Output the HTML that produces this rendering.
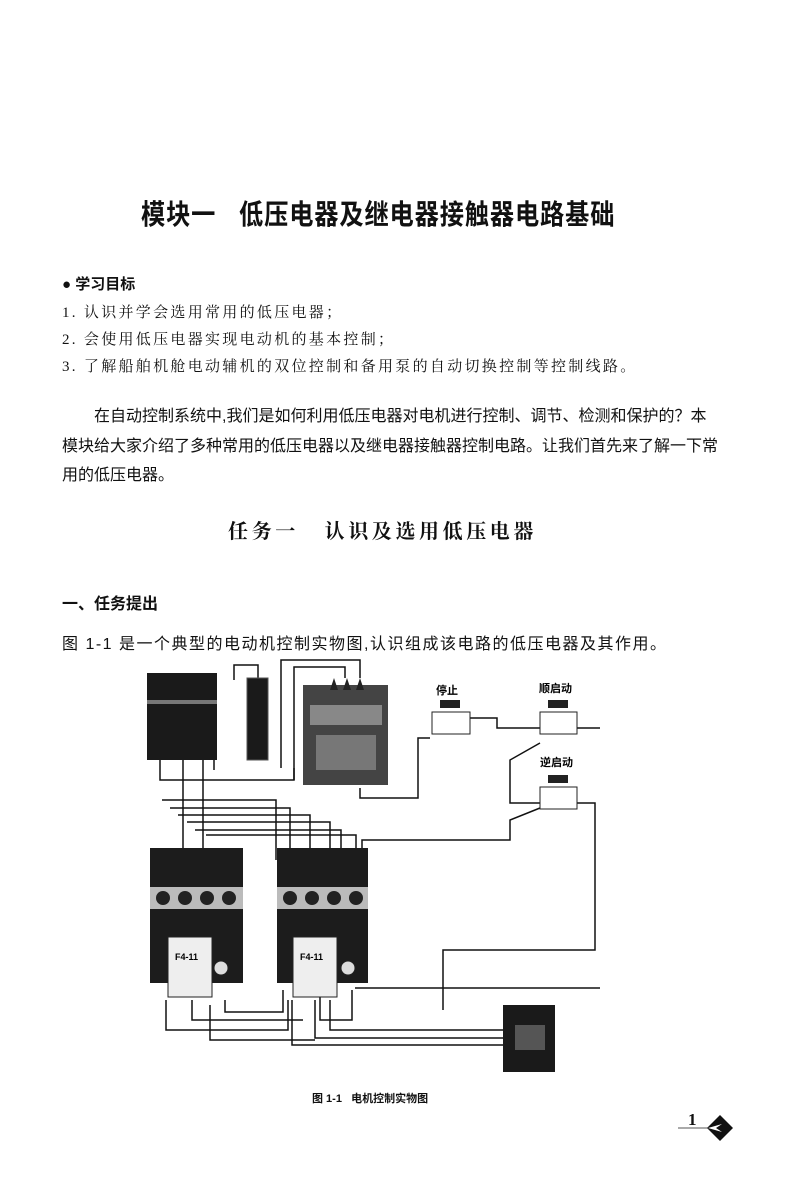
<!DOCTYPE html>
<html><head><meta charset="utf-8"><style>
body{margin:0;width:790px;height:1198px;background:#fff;position:relative;overflow:hidden;font-family:"Liberation Serif","Noto Serif CJK SC",serif;color:#111}
.t{position:absolute;white-space:nowrap}
.s{font-family:"Liberation Sans","Noto Sans CJK SC",sans-serif}
</style></head><body>
<div class="t s" style="left:141px;top:193px;font-size:28px;font-weight:bold;letter-spacing:1px;transform:scaleX(0.865);transform-origin:0 0">模块一&nbsp;&nbsp;&nbsp;低压电器及继电器接触器电路基础</div>
<div class="t s" style="left:62px;top:273px;font-size:15px;font-weight:bold">●&nbsp;学习目标</div>
<div class="t" style="left:62px;top:301px;font-size:15px;letter-spacing:2.3px">1. 认识并学会选用常用的低压电器；</div>
<div class="t" style="left:62px;top:328px;font-size:15px;letter-spacing:2.3px">2. 会使用低压电器实现电动机的基本控制；</div>
<div class="t" style="left:62px;top:355px;font-size:15px;letter-spacing:2.3px">3. 了解船舶机舱电动辅机的双位控制和备用泵的自动切换控制等控制线路。</div>
<div class="t s" style="left:94px;top:402px;font-size:16px">在自动控制系统中,我们是如何利用低压电器对电机进行控制、调节、检测和保护的？本</div>
<div class="t s" style="left:62px;top:432px;font-size:16px">模块给大家介绍了多种常用的低压电器以及继电器接触器控制电路。让我们首先来了解一下常</div>
<div class="t s" style="left:62px;top:461px;font-size:16px">用的低压电器。</div>
<div class="t" style="left:228px;top:515px;font-size:20px;letter-spacing:3.6px;font-weight:bold">任务一&nbsp;&nbsp;&nbsp;认识及选用低压电器</div>
<div class="t s" style="left:62px;top:590px;font-size:16px;font-weight:bold">一、任务提出</div>
<div class="t s" style="left:62px;top:630px;font-size:16px;letter-spacing:1.5px">图 1-1 是一个典型的电动机控制实物图,认识组成该电路的低压电器及其作用。</div>
<svg style="position:absolute;left:0;top:0" width="790" height="1198">
<g fill="none" stroke="#111" stroke-width="1.5">
<path d="M234 680V665H258V680"/><path d="M281 768V660H360V678"/><path d="M294 780V667H345V678"/>
<path d="M360 788V798H418V738H430"/><path d="M470 718H497V728H540"/><path d="M577 728H600"/>
<path d="M540 743L510 760V803H540"/><path d="M577 803H595V950H443V1010"/>
<path d="M540 808L510 820V840H362V852"/><path d="M355 988H600"/>
<path d="M160 760V780H294V768"/><path d="M183 760V850M203 760V850M214 760V770"/>
<path d="M162 800H276V860M170 808H290V860M178 815H310V860M187 822H330V860M195 830H341V855M206 835H356V848"/>
<path d="M166 1000V1030H288V1000M192 1000V1020H303M210 1005V1040H315M225 1000V1012H283V990"/>
<path d="M292 1000V1045H503M315 1000V1038H503M330 1000V1030H503M320 995V1020H352V990"/>
</g>
<rect x="147" y="673" width="70" height="87" fill="#1a1a1a"/>
<rect x="147" y="700" width="70" height="4" fill="#777"/>
<rect x="247" y="678" width="21" height="82" fill="#1a1a1a" stroke="#555"/>
<rect x="303" y="685" width="85" height="100" fill="#444"/>
<rect x="310" y="705" width="72" height="20" fill="#888"/>
<rect x="316" y="735" width="60" height="35" fill="#777"/>
<path d="M330 690l4-12 4 12zM343 690l4-12 4 12zM356 690l4-12 4 12z" fill="#222"/>
<g>
<rect x="150" y="848" width="93" height="135" fill="#1c1c1c"/>
<rect x="150" y="887" width="93" height="22" fill="#bbb"/>
<circle cx="163" cy="898" r="7" fill="#222"/><circle cx="185" cy="898" r="7" fill="#222"/><circle cx="207" cy="898" r="7" fill="#222"/><circle cx="229" cy="898" r="7" fill="#222"/>
<rect x="168" y="937" width="44" height="60" fill="#eee" stroke="#222"/>
<text x="175" y="960" font-size="9" font-weight="bold" font-family="Liberation Sans">F4-11</text>
<circle cx="221" cy="968" r="7" fill="#ddd" stroke="#222"/>
</g>
<g>
<rect x="277" y="848" width="91" height="135" fill="#1c1c1c"/>
<rect x="277" y="887" width="91" height="22" fill="#bbb"/>
<circle cx="290" cy="898" r="7" fill="#222"/><circle cx="312" cy="898" r="7" fill="#222"/><circle cx="334" cy="898" r="7" fill="#222"/><circle cx="356" cy="898" r="7" fill="#222"/>
<rect x="293" y="937" width="44" height="60" fill="#eee" stroke="#222"/>
<text x="300" y="960" font-size="9" font-weight="bold" font-family="Liberation Sans">F4-11</text>
<circle cx="348" cy="968" r="7" fill="#ddd" stroke="#222"/>
</g>
<rect x="503" y="1005" width="52" height="67" fill="#1a1a1a"/>
<rect x="515" y="1025" width="30" height="25" fill="#555"/>
<g fill="#222"><rect x="440" y="700" width="20" height="8"/><rect x="548" y="700" width="20" height="8"/><rect x="548" y="775" width="20" height="8"/></g>
<g fill="#fff" stroke="#222"><rect x="432" y="712" width="38" height="22"/><rect x="540" y="712" width="37" height="22"/><rect x="540" y="787" width="37" height="22"/></g>
<g font-size="11" font-weight="bold" font-family="Liberation Sans,Noto Sans CJK SC,sans-serif">
<text x="436" y="694">停止</text><text x="539" y="692">顺启动</text><text x="540" y="766">逆启动</text></g>
<line x1="678" y1="1128" x2="708" y2="1128" stroke="#555"/>
<path d="M720 1115l13 13-13 13-13-13z" fill="#111"/>
<path d="M708 1128l14-4-6 4 6 4z" fill="#fff"/>
</svg>
<div class="t s" style="left:312px;top:1090px;font-size:11px;font-weight:bold">图 1-1&nbsp;&nbsp;&nbsp;电机控制实物图</div>
<div class="t" style="left:688px;top:1110px;font-size:17px;font-weight:bold">1</div>
</body></html>
